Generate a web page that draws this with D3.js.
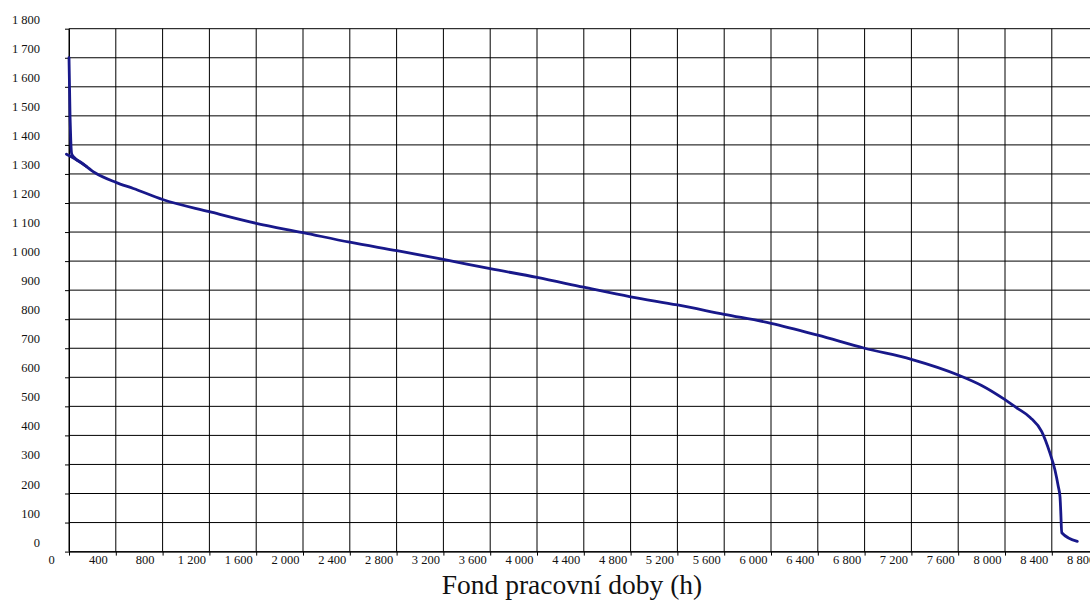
<!DOCTYPE html>
<html>
<head>
<meta charset="utf-8">
<script src="https://cdn.jsdelivr.net/npm/d3@7"></script>
<style>
  html, body { margin: 0; padding: 0; background: #fff; }
  svg { display: block; }
  text { font-family: "Liberation Serif", "Times New Roman", serif; fill: #111; }
</style>
</head>
<body>
<svg id="chart" width="1090" height="601"></svg>
<script>
// Tick values of both axes (hours and load)
const xTicks = d3.range(0, 8801, 400);
const yTicks = d3.range(0, 1801, 100);

// Short peak at the start of the duration curve
const peakHours = [0, 9, 15, 23, 51, 108, 151];
const peakLoad  = [1700, 1497, 1417, 1369, 1354, 1337, 1325];

// Main ordered load duration curve
const hours = [-22, 94, 222, 400, 550, 800, 1200, 1600, 2000, 2400, 2800, 3200, 3600, 4000,
               4400, 4800, 5200, 5600, 6000, 6400, 6800, 7200, 7600, 7800, 8000, 8100,
               8215, 8314, 8385, 8427, 8456, 8470, 8476, 8485, 8618];
const load  = [1368, 1342, 1304, 1271, 1250, 1212, 1170, 1130, 1098, 1065, 1036, 1006, 974, 944,
               910, 877, 849, 817, 786, 745, 700, 662, 608, 572, 523, 495,
               462, 413, 338, 281, 223, 189, 143, 65, 35];

const xTitle = "Fond pracovní doby (h)";

const svg = d3.select("#chart");
const x = d3.scaleLinear().domain([0, 8800]).range([69, 1098.6]);
const y = d3.scaleLinear().domain([0, 1800]).range([551.6, 28.7]);

const fmt = d3.formatLocale({ decimal: ",", thousands: " ", grouping: [3], currency: ["", ""] }).format(",d");

// Grid
const grid = svg.append("g").attr("stroke", "#000").attr("stroke-width", 1);
grid.selectAll("line.v").data(xTicks).join("line")
  .attr("class", "v")
  .attr("x1", d => x(d)).attr("x2", d => x(d))
  .attr("y1", y(1800)).attr("y2", y(0));
grid.selectAll("line.h").data(yTicks).join("line")
  .attr("class", "h")
  .attr("x1", x(0)).attr("x2", x(8800))
  .attr("y1", d => y(d)).attr("y2", d => y(d));

// Axes
const xAxis = svg.append("g")
  .attr("transform", `translate(0,${y(0)})`)
  .call(d3.axisBottom(x).tickValues(xTicks).tickFormat(fmt).tickSize(4).tickSizeOuter(0));
xAxis.select(".domain").attr("stroke", "#000");
xAxis.selectAll(".tick line").attr("stroke", "#000");
xAxis.selectAll(".tick text")
  .attr("x", -18).attr("y", 12).attr("dy", null)
  .style("font-size", "12.5px");

const yAxis = svg.append("g")
  .attr("transform", `translate(${x(0)},0)`)
  .call(d3.axisLeft(y).tickValues(yTicks).tickFormat(fmt).tickSize(4).tickSizeOuter(0));
yAxis.select(".domain").attr("stroke", "#000");
yAxis.selectAll(".tick line").attr("stroke", "#000");
yAxis.selectAll(".tick text")
  .attr("x", -29).attr("y", -5.5).attr("dy", null)
  .style("font-size", "12.5px");
xAxis.attr("font-family", null).attr("font-size", null);
yAxis.attr("font-family", null).attr("font-size", null);

// Curves
const line = d3.line().curve(d3.curveMonotoneX).x(d => x(d[0])).y(d => y(d[1]));
const curveStyle = sel => sel.attr("fill", "none").attr("stroke", "#18188a")
  .attr("stroke-width", 2.8).attr("stroke-linejoin", "round").attr("stroke-linecap", "round");

svg.append("path").datum(d3.zip(peakHours, peakLoad)).attr("d", line).call(curveStyle);
svg.append("path").datum(d3.zip(hours, load)).attr("d", line).call(curveStyle);

// Axis title
svg.append("text")
  .attr("x", 572).attr("y", 594)
  .attr("text-anchor", "middle")
  .style("font-size", "27.5px")
  .text(xTitle);
</script>
</body>
</html>
